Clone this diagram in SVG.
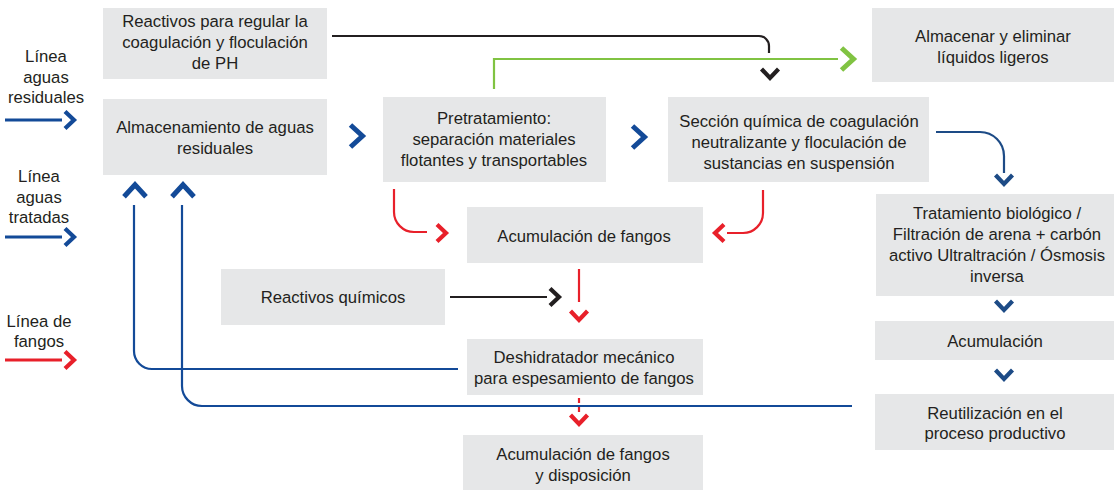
<svg xmlns="http://www.w3.org/2000/svg" xmlns:xlink="http://www.w3.org/1999/xlink" width="1117" height="490" viewBox="0 0 1117 490">
<style>
.box{fill:#e6e7e8}
.t{font-family:"Liberation Sans",Arial,sans-serif;font-size:16.7px;fill:#231f20;text-anchor:middle}
.ln{fill:none;stroke-width:2.2}
.lg{fill:none;stroke-width:3}
.blue{stroke:#134a98}
.navy{stroke:#1d4b86}
.red{stroke:#e8202a}
.green{stroke:#80c342}
.black{stroke:#231f20}
</style>
<defs>
<path id="cs" d="M-9,-8.5 L0,0 L-9,8.5" fill="none" stroke-width="4.2" stroke-miterlimit="10"/>
<path id="cl" d="M-12,-11 L0,0 L-12,11" fill="none" stroke-width="5" stroke-miterlimit="10"/>
</defs>
<rect width="1117" height="490" fill="#ffffff"/>

<g id="legend">
<text class="t" x="46" y="62">Línea</text>
<text class="t" x="46" y="83">aguas</text>
<text class="t" x="46" y="103">residuales</text>
<path class="lg blue" d="M5,120 H62"/>
<use href="#cs" stroke="#134a98" transform="translate(74,120)"/>
<text class="t" x="39" y="182">Línea</text>
<text class="t" x="39" y="203">aguas</text>
<text class="t" x="39" y="223">tratadas</text>
<path class="lg blue" d="M5,237 H62"/>
<use href="#cs" stroke="#134a98" transform="translate(74,237)"/>
<text class="t" x="39" y="327">Línea de</text>
<text class="t" x="39" y="347">fangos</text>
<path class="lg red" d="M5,360 H62"/>
<use href="#cs" stroke="#e8202a" transform="translate(74,360)"/>
</g>

<g id="connectors">
<path class="ln black" d="M332,36 H759 A10,10 0 0 1 769,46 V53"/>
<use href="#cs" stroke="#231f20" transform="translate(770,78) rotate(90)"/>
<path class="ln green" stroke-width="2.6" d="M494,89 V59 H838"/>
<use href="#cl" stroke="#80c342" transform="translate(853.5,59)"/>
<use href="#cl" stroke="#134a98" transform="translate(362.5,136)"/>
<use href="#cl" stroke="#134a98" transform="translate(644.5,137)"/>
<path class="ln navy" d="M936,132 H980 A24,24 0 0 1 1004,156 V173"/>
<use href="#cs" stroke="#1d4b86" transform="translate(1004,184) rotate(90)"/>
<use href="#cs" stroke="#1d4b86" transform="translate(1004,310) rotate(90)"/>
<use href="#cs" stroke="#1d4b86" transform="translate(1004,379) rotate(90)"/>
<path class="ln red" d="M394,189 V212 A20,20 0 0 0 414,232 H427"/>
<use href="#cs" stroke="#e8202a" transform="translate(446,233)"/>
<path class="ln red" d="M763,190 V213 A20,20 0 0 1 743,233 H727"/>
<use href="#cs" stroke="#e8202a" transform="translate(715,233) rotate(180)"/>
<path class="ln red" d="M579,269 V302"/>
<use href="#cs" stroke="#e8202a" transform="translate(579,320) rotate(90)"/>
<path class="ln black" d="M450,297 H547"/>
<use href="#cs" stroke="#231f20" transform="translate(559,297)"/>
<path class="ln blue" d="M458,369 H152 A18,18 0 0 1 134,351 V205"/>
<path class="ln blue" d="M852,406 H202 A20,20 0 0 1 182,386 V205"/>
<use href="#cl" stroke="#134a98" transform="translate(135,184.7) rotate(-90)"/>
<use href="#cl" stroke="#134a98" transform="translate(183,184.7) rotate(-90)"/>
<path class="ln red" stroke-dasharray="5 4" d="M579,398 V413"/>
<use href="#cs" stroke="#e8202a" transform="translate(579,424) rotate(90)"/>
</g>

<g id="n1">
<rect class="box" x="103" y="8" width="224" height="71"/>
<text class="t" x="215" y="27">Reactivos para regular la</text>
<text class="t" x="215" y="48">coagulación y floculación</text>
<text class="t" x="215" y="69">de PH</text>
</g>
<g id="n2">
<rect class="box" x="103" y="99" width="224" height="76"/>
<text class="t" x="215" y="133">Almacenamiento de aguas</text>
<text class="t" x="215" y="154">residuales</text>
</g>
<g id="n3">
<rect class="box" x="383" y="97" width="223" height="85"/>
<text class="t" x="494" y="124">Pretratamiento:</text>
<text class="t" x="494" y="145">separación materiales</text>
<text class="t" x="494" y="166">flotantes y transportables</text>
</g>
<g id="n4">
<rect class="box" x="668" y="97" width="261" height="85"/>
<text class="t" x="799" y="127">Sección química de coagulación</text>
<text class="t" x="799" y="148">neutralizante y floculación de</text>
<text class="t" x="799" y="169">sustancias en suspensión</text>
</g>
<g id="n5">
<rect class="box" x="872" y="8" width="242" height="74"/>
<text class="t" x="993" y="42">Almacenar y eliminar</text>
<text class="t" x="993" y="63">líquidos ligeros</text>
</g>
<g id="n6">
<rect class="box" x="876" y="194" width="238" height="102"/>
<text class="t" x="997" y="219">Tratamiento biológico /</text>
<text class="t" x="997" y="240">Filtración de arena + carbón</text>
<text class="t" x="997" y="261">activo Ultraltración / Ósmosis</text>
<text class="t" x="997" y="282">inversa</text>
</g>
<g id="n7">
<rect class="box" x="875" y="321" width="239" height="39"/>
<text class="t" x="995" y="347">Acumulación</text>
</g>
<g id="n8">
<rect class="box" x="875" y="394" width="239" height="56"/>
<text class="t" x="995" y="419">Reutilización en el</text>
<text class="t" x="995" y="439">proceso productivo</text>
</g>
<g id="n9">
<rect class="box" x="467" y="207" width="236" height="56"/>
<text class="t" x="584" y="242">Acumulación de fangos</text>
</g>
<g id="n10">
<rect class="box" x="221" y="269" width="224" height="56"/>
<text class="t" x="333" y="303">Reactivos químicos</text>
</g>
<g id="n11">
<rect class="box" x="467" y="339" width="236" height="56"/>
<text class="t" x="584" y="363">Deshidratador mecánico</text>
<text class="t" x="584" y="384">para espesamiento de fangos</text>
</g>
<g id="n12">
<rect class="box" x="463" y="435" width="240" height="55"/>
<text class="t" x="583" y="460">Acumulación de fangos</text>
<text class="t" x="583" y="481">y disposición</text>
</g>
</svg>
